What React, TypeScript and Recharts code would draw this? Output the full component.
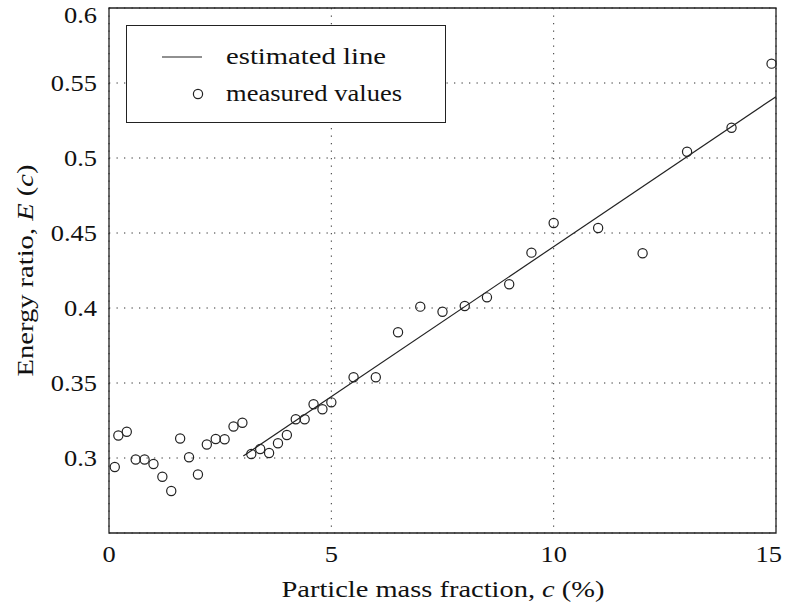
import React from "react"
import {
  ComposedChart,
  Scatter,
  XAxis,
  YAxis,
  CartesianGrid,
  ReferenceArea,
  Legend,
  Label,
} from "recharts"

// measured energy ratio vs particle mass fraction (%)
const massFraction = [
  0.13, 0.21, 0.4, 0.6, 0.8, 1.0, 1.2, 1.4, 1.6, 1.8, 2.0, 2.2, 2.4, 2.6, 2.8, 3.0,
  3.2, 3.4, 3.6, 3.8, 4.0, 4.2, 4.4, 4.6, 4.8, 5.0, 5.5, 6.0, 6.5, 7.0, 7.5, 8.0,
  8.5, 9.0, 9.5, 10, 11, 12, 13, 14, 14.9,
]
const energyRatio = [
  0.294, 0.315, 0.3175, 0.299, 0.299, 0.296, 0.2875, 0.278, 0.313, 0.3005, 0.289,
  0.309, 0.3127, 0.3125, 0.321, 0.3235, 0.3027, 0.306, 0.3033, 0.3098, 0.3153,
  0.3258, 0.3258, 0.3358, 0.3325, 0.3371, 0.3538, 0.3538, 0.3838, 0.4009, 0.3975,
  0.4013, 0.4071, 0.4158, 0.4369, 0.4567, 0.4533, 0.4365, 0.5042, 0.5202, 0.5629,
]

// estimated (fitted) line end points
const fitC = [3.02, 15]
const fitE = [0.3013, 0.5409]

const xTicks = [0, 5, 10, 15]
const yTicks = [0.3, 0.35, 0.4, 0.45, 0.5, 0.55, 0.6]
const xDomain: [number, number] = [0, 15]
const yDomain: [number, number] = [0.25, 0.6]

// small frame ticks
const xMinor = Array.from({ length: 76 }, (_, i) => +(i * 0.2).toFixed(2))
const yMinor = Array.from({ length: 71 }, (_, i) => +(0.25 + i * 0.005).toFixed(3))

const measured = massFraction.map((c, i) => ({ c, e: energyRatio[i] }))
const fitted = fitC.map((c, i) => ({ c, e: fitE[i] }))

const W = 785
const FONT = "'Liberation Serif', 'Times New Roman', serif"
const INK = "#222"
const FS = 23
const SX = 1.15 // horizontal stretch for the serif labels
const textStyle = { fontFamily: FONT, fontSize: FS, fill: "#111" }

const Ring = (props: any) => (
  <circle cx={props.cx} cy={props.cy} r={4.6} fill="none" stroke={INK} strokeWidth={1.2} />
)
const NoDot = () => <g />

const XTick = (props: any) => {
  const label = String(props.payload.value)
  const half = (label.length * 0.5 * FS * SX) / 2
  const x = Math.min(props.x, W - 3 - half)
  return (
    <g transform={`translate(${x},${props.y}) scale(${SX},1)`}>
      <text x={0} y={0} dy="0.7em" textAnchor="middle" style={textStyle}>
        {label}
      </text>
    </g>
  )
}

const YTick = (props: any) => {
  const label = String(+Number(props.payload.value).toFixed(2))
  const y = Math.max(props.y, 15)
  return (
    <g transform={`translate(${props.x},${y}) scale(${SX},1)`}>
      <text x={0} y={0} dy="0.35em" textAnchor="end" style={textStyle}>
        {label}
      </text>
    </g>
  )
}

const XTitle = (props: any) => {
  const vb = props.viewBox
  const cx = vb.x + vb.width / 2
  return (
    <text x={cx - 161} y={vb.y + 64} textLength={323} lengthAdjust="spacingAndGlyphs" style={textStyle}>
      Particle mass fraction, <tspan fontStyle="italic">c</tspan> (%)
    </text>
  )
}

const YTitle = (props: any) => {
  const vb = props.viewBox
  const bx = 33
  const cy = vb.y + vb.height / 2
  return (
    <g transform={`rotate(-90 ${bx} ${cy})`}>
      <text x={bx - 106} y={cy} textLength={212} lengthAdjust="spacingAndGlyphs" style={textStyle}>
        Energy ratio, <tspan fontStyle="italic">E</tspan> (<tspan fontStyle="italic">c</tspan>)
      </text>
    </g>
  )
}

const LegendBox = () => (
  <div
    style={{
      width: 320,
      height: 98,
      boxSizing: "border-box",
      border: `1px solid ${INK}`,
      background: "#fff",
    }}
  >
    <svg width={318} height={96} style={{ display: "block" }}>
      <line x1={35} x2={75} y1={31} y2={31} stroke={INK} strokeWidth={1.1} />
      <text x={99} y={38} textLength={160} lengthAdjust="spacingAndGlyphs" style={textStyle}>
        estimated line
      </text>
      <circle cx={71} cy={68} r={4.6} fill="none" stroke={INK} strokeWidth={1.2} />
      <text x={99} y={75} textLength={176} lengthAdjust="spacingAndGlyphs" style={textStyle}>
        measured values
      </text>
    </svg>
  </div>
)

export default function App() {
  return (
    <div style={{ position: "absolute", left: 0, top: 0, width: W, height: 614, background: "#fff" }}>
      <ComposedChart width={W} height={614} margin={{ top: 8, right: 9, left: 0, bottom: 0 }}>
        <XAxis
          type="number"
          dataKey="c"
          domain={xDomain}
          ticks={xTicks}
          interval={0}
          height={81}
          tickSize={0}
          tickMargin={13}
          axisLine={false}
          tickLine={false}
          tick={XTick}
          label={<Label content={XTitle} />}
        />
        <YAxis
          type="number"
          dataKey="e"
          domain={yDomain}
          ticks={yTicks}
          interval={0}
          width={109}
          tickSize={0}
          tickMargin={12}
          axisLine={false}
          tickLine={false}
          tick={YTick}
          label={<Label content={YTitle} />}
        />

        {/* inward frame ticks on all four sides */}
        {(["bottom", "top"] as const).map((o) => [
          <XAxis key={o + "M"} xAxisId={o + "M"} orientation={o} mirror type="number" domain={xDomain}
            ticks={xTicks} interval={0} tickSize={5} tick={false} axisLine={false} stroke={INK} />,
          <XAxis key={o + "m"} xAxisId={o + "m"} orientation={o} mirror type="number" domain={xDomain}
            ticks={xMinor} interval={0} tickSize={2} tick={false} axisLine={false} stroke="#666" />,
        ])}
        {(["left", "right"] as const).map((o) => [
          <YAxis key={o + "M"} yAxisId={o + "M"} orientation={o} mirror type="number" domain={yDomain}
            ticks={yTicks} interval={0} tickSize={5} tick={false} axisLine={false} stroke={INK} />,
          <YAxis key={o + "m"} yAxisId={o + "m"} orientation={o} mirror type="number" domain={yDomain}
            ticks={yMinor} interval={0} tickSize={2} tick={false} axisLine={false} stroke="#666" />,
        ])}

        <CartesianGrid stroke="#333" strokeDasharray="1.3 6.2" strokeWidth={1} />
        <ReferenceArea x1={0} x2={15} y1={0.25} y2={0.6} fill="none" stroke={INK} strokeWidth={1.3} />

        <Legend
          layout="horizontal"
          verticalAlign="middle"
          align="center"
          content={LegendBox}
          wrapperStyle={{ left: 126, top: 25, width: 320, height: 98 }}
        />

        <Scatter
          name="estimated line"
          data={fitted}
          line={{ stroke: INK, strokeWidth: 1.2 }}
          shape={NoDot}
          isAnimationActive={false}
        />
        <Scatter name="measured values" data={measured} shape={Ring} isAnimationActive={false} />
      </ComposedChart>
    </div>
  )
}
